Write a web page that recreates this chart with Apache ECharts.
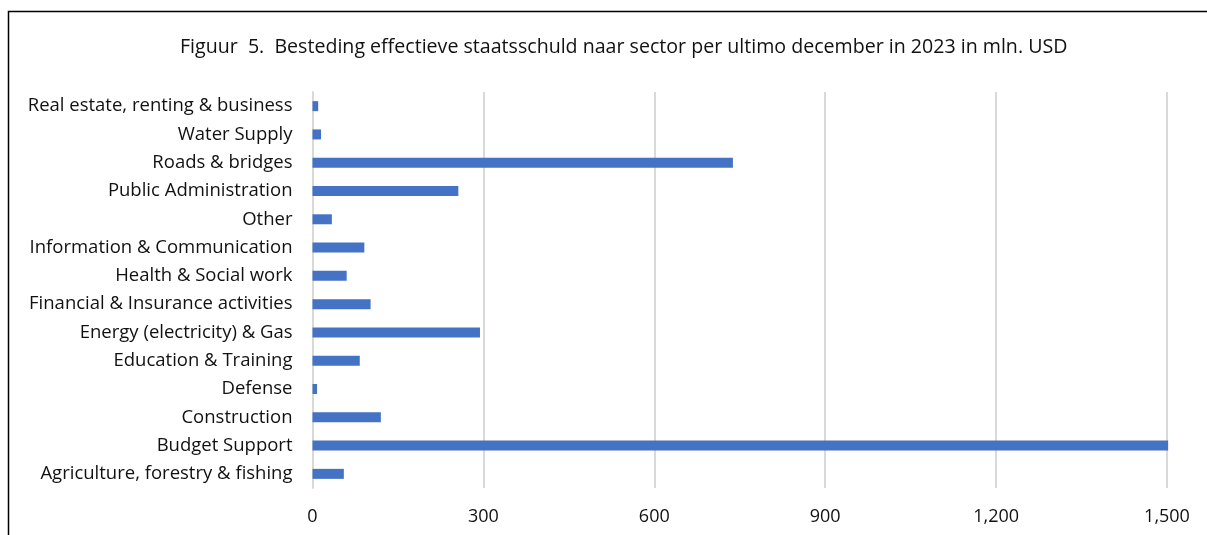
<!DOCTYPE html>
<html>
<head>
<meta charset="utf-8">
<script src="https://cdn.jsdelivr.net/npm/echarts@6/dist/echarts.min.js"></script>
<style>
  html, body { margin: 0; padding: 0; background: #fff; }
  #chart { width: 1207px; height: 535px; }
</style>
</head>
<body>
<div id="chart"></div>
<script>
// Sectors, listed bottom to top as they appear on the category axis
const sectors = [
  'Agriculture, forestry & fishing',
  'Budget Support',
  'Construction',
  'Defense',
  'Education & Training',
  'Energy (electricity) & Gas',
  'Financial & Insurance activities',
  'Health & Social work',
  'Information & Communication',
  'Other',
  'Public Administration',
  'Roads & bridges',
  'Water Supply',
  'Real estate, renting & business'
];

// Outstanding debt spending per sector, mln. USD
const amounts = [55, 1502, 120, 8, 83, 294, 102, 60, 91, 34, 256, 738, 15, 10];

// Value axis ticks
const xTicks = [0, 300, 600, 900, 1200, 1500];

const titleText = 'Figuur  5.  Besteding effectieve staatsschuld naar sector per ultimo december in 2023 in mln. USD';

const FONT = '"Open Sans", Lato, sans-serif';

const chart = echarts.init(document.getElementById('chart'), null, { renderer: 'canvas' });

chart.setOption({
  animation: false,
  backgroundColor: '#ffffff',
  title: {
    text: titleText,
    left: 175,
    top: 32,
    textStyle: { fontFamily: FONT, fontSize: 19.6, fontWeight: 'normal', color: '#111' }
  },
  graphic: [{
    type: 'rect',
    shape: { x: 8.5, y: 11.5, width: 1220, height: 560 },
    style: { fill: 'none', stroke: '#000', lineWidth: 1.5 },
    silent: true
  }],
  grid: { left: 312.5, right: 40, top: 92, height: 396, containLabel: false },
  xAxis: {
    type: 'value',
    min: xTicks[0],
    max: xTicks[xTicks.length - 1],
    interval: xTicks[1] - xTicks[0],
    axisLine: { show: false },
    axisTick: { show: false },
    splitLine: { show: true, lineStyle: { color: '#d9d9d9', width: 2 } },
    axisLabel: {
      margin: 20,
      fontFamily: FONT,
      fontSize: 18,
      color: '#111',
      formatter: v => v.toLocaleString('en-US')
    }
  },
  yAxis: {
    type: 'category',
    data: sectors,
    axisLine: { show: true, lineStyle: { color: '#d9d9d9', width: 2 } },
    axisTick: { show: false },
    axisLabel: { margin: 20, fontFamily: FONT, fontSize: 18.5, color: '#111' }
  },
  series: [{
    type: 'bar',
    data: amounts,
    barWidth: 10,
    clip: false,
    itemStyle: { color: '#4472C4' }
  }]
});
</script>
</body>
</html>
